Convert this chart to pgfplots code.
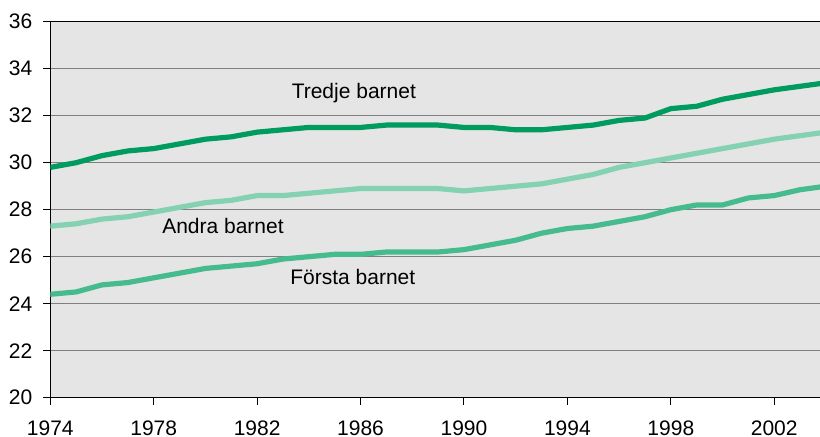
\documentclass[border=0pt]{standalone}
\usepackage{fontspec}
\setmainfont{Liberation Sans}
\usepackage{pgfplots}
\pgfplotsset{compat=1.18}
\usetikzlibrary{calc}
\definecolor{cTredje}{RGB}{0,155,95}
\definecolor{cAndra}{RGB}{132,210,178}
\definecolor{cForsta}{RGB}{70,188,142}
\definecolor{cBack}{RGB}{229,229,229}
\definecolor{cGrid}{RGB}{128,128,128}

\begin{document}
\begin{tikzpicture}
\begin{axis}[
    name=ax,
    scale only axis,
    width=384.85pt,
    height=188pt,
    xmin=1974, xmax=2003.77,
    ymin=20, ymax=36,
    xtick={1974,1978,...,2002},
    ytick={20,22,...,36},
    separate axis lines,
    axis x line=box,
    axis y line=left,
    x axis line style={-, black, line width=0.6pt},
    y axis line style={-, black, line width=0.6pt},
    xtick pos=bottom,
    ytick pos=left,
    tick align=outside,
    major tick length=3.5pt,
    tick style={black, line width=0.5pt},
    ymajorgrids,
    grid style={cGrid, line width=0.6pt},
    axis background/.style={fill=cBack},
    font=\fontsize{10.5}{12}\selectfont,
    /pgf/number format/assume math mode=true,
    xticklabel={\pgfmathprintnumber[1000 sep={}]{\tick}},
    xticklabel style={yshift=-4.5pt},
    yticklabel style={xshift=-2pt},
    clip=true,
]
\addplot[cAndra, line width=2.6pt] coordinates {
    (1974,27.3)(1975,27.4)(1976,27.6)(1977,27.7)(1978,27.9)(1979,28.1)
    (1980,28.3)(1981,28.4)(1982,28.6)(1983,28.6)(1984,28.7)(1985,28.8)
    (1986,28.9)(1987,28.9)(1988,28.9)(1989,28.9)(1990,28.8)(1991,28.9)
    (1992,29.0)(1993,29.1)(1994,29.3)(1995,29.5)(1996,29.8)(1997,30.0)
    (1998,30.2)(1999,30.4)(2000,30.6)(2001,30.8)(2002,31.0)(2003,31.15)
    (2004,31.3)};
\addplot[cForsta, line width=2.6pt] coordinates {
    (1974,24.4)(1975,24.5)(1976,24.8)(1977,24.9)(1978,25.1)(1979,25.3)
    (1980,25.5)(1981,25.6)(1982,25.7)(1983,25.9)(1984,26.0)(1985,26.1)
    (1986,26.1)(1987,26.2)(1988,26.2)(1989,26.2)(1990,26.3)(1991,26.5)
    (1992,26.7)(1993,27.0)(1994,27.2)(1995,27.3)(1996,27.5)(1997,27.7)
    (1998,28.0)(1999,28.2)(2000,28.2)(2001,28.5)(2002,28.6)(2003,28.85)
    (2004,29.0)};
\addplot[cTredje, line width=2.6pt] coordinates {
    (1974,29.8)(1975,30.0)(1976,30.3)(1977,30.5)(1978,30.6)(1979,30.8)
    (1980,31.0)(1981,31.1)(1982,31.3)(1983,31.4)(1984,31.5)(1985,31.5)
    (1986,31.5)(1987,31.6)(1988,31.6)(1989,31.6)(1990,31.5)(1991,31.5)
    (1992,31.4)(1993,31.4)(1994,31.5)(1995,31.6)(1996,31.8)(1997,31.9)
    (1998,32.3)(1999,32.4)(2000,32.7)(2001,32.9)(2002,33.1)(2003,33.25)
    (2004,33.4)};
\node at (axis cs:1985.74,32.95) {Tredje barnet};
\node at (axis cs:1980.68,27.3) {Andra barnet};
\node at (axis cs:1985.7,25.15) {Första barnet};
\end{axis}
\pgfresetboundingbox
\path ($(ax.south west)+(-25.15pt,-19.65pt)$) rectangle ($(ax.north east)+(0,10.85pt)$);
\end{tikzpicture}
\end{document}
